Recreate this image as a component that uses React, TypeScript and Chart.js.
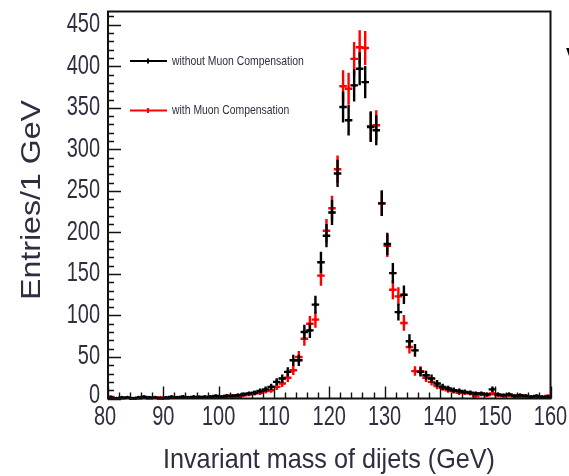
import { useEffect, useRef } from "react";
import { Chart, registerables } from "chart.js";

Chart.register(...registerables);

// Dijet invariant mass, 1 GeV bins (bin centres in GeV)
const binCenters = [
  80.5, 81.5, 82.5, 83.5, 84.5, 85.5, 86.5, 87.5, 88.5, 89.5,
  90.5, 91.5, 92.5, 93.5, 94.5, 95.5, 96.5, 97.5, 98.5, 99.5,
  100.5, 101.5, 102.5, 103.5, 104.5, 105.5, 106.5, 107.5, 108.5, 109.5,
  110.5, 111.5, 112.5, 113.5, 114.5, 115.5, 116.5, 117.5, 118.5, 119.5,
  120.5, 121.5, 122.5, 123.5, 124.5, 125.5, 126.5, 127.5, 128.5, 129.5,
  130.5, 131.5, 132.5, 133.5, 134.5, 135.5, 136.5, 137.5, 138.5, 139.5,
  140.5, 141.5, 142.5, 143.5, 144.5, 145.5, 146.5, 147.5, 148.5, 149.5,
  150.5, 151.5, 152.5, 153.5, 154.5, 155.5, 156.5, 157.5, 158.5, 159.5,
];

// Entries per bin without muon compensation
const withoutMuon = [
  1, 0, 1, 1, 0, 1, 2, 1, 1, 0,
  1, 2, 1, 2, 1, 2, 1, 2, 2, 3,
  2, 3, 3, 4, 5, 6, 7, 9, 11, 14,
  20, 24, 32, 46, 46, 80, 82, 113, 164, 196,
  224, 271, 351, 335, 377, 397, 381, 327, 323, 235,
  186, 151, 104, 125, 69, 58, 32, 28, 24, 18,
  14, 12, 10, 9, 8, 7, 6, 6, 5, 11,
  5, 4, 5, 3, 4, 3, 2, 3, 2, 2,
];

// Entries per bin with muon compensation
const withMuon = [
  2, 0, 0, 1, 0, 0, 1, 0, 1, 1,
  0, 1, 1, 2, 1, 1, 2, 1, 2, 1,
  2, 3, 3, 2, 4, 5, 6, 7, 9, 10,
  14, 18, 25, 34, 50, 72, 90, 95, 148, 202,
  229, 276, 376, 373, 409, 423, 422, 328, 329, 235,
  184, 131, 123, 91, 62, 33, 33, 25, 20, 15,
  13, 10, 9, 7, 7, 6, 3, 5, 4, 6,
  4, 3, 4, 3, 2, 3, 2, 2, 1, 3,
];

const seriesLabels = ["without Muon Compensation", "with Muon Compensation"];
const seriesColors = ["#000000", "#ff0000"];

const xTitle = "Invariant mass of dijets (GeV)";
const yTitle = "Entries/1 GeV";

const X_MIN = 80;
const X_MAX = 160;
const Y_MIN = 0;
const Y_MAX = 466;
const X_MAJOR = 10;
const X_MINOR = 2;
const Y_MAJOR = 50;
const Y_MINOR = 10;
const BIN_HALF_WIDTH = 0.5;

const FONT = "'Liberation Sans', Arial, sans-serif";
const TEXT_COLOR = "#2e2e40";

// Draws text squeezed (or stretched) horizontally along its own direction
function drawText(
  ctx: CanvasRenderingContext2D,
  text: string,
  x: number,
  y: number,
  size: number,
  sx: number,
  align: CanvasTextAlign,
  rotation = 0
) {
  ctx.save();
  ctx.translate(x, y);
  if (rotation) ctx.rotate(rotation);
  ctx.scale(sx, 1);
  ctx.font = `${size}px ${FONT}`;
  ctx.textAlign = align;
  ctx.textBaseline = "middle";
  ctx.fillStyle = TEXT_COLOR;
  ctx.fillText(text, 0, 0);
  ctx.restore();
}

// Draws text scaled to span a given width
function drawFitted(
  ctx: CanvasRenderingContext2D,
  text: string,
  cx: number,
  cy: number,
  size: number,
  width: number,
  rotation = 0
) {
  ctx.save();
  ctx.font = `${size}px ${FONT}`;
  const w = ctx.measureText(text).width;
  ctx.restore();
  drawText(ctx, text, cx, cy, size, width / w, "center", rotation);
}

// Poisson error bars, drawn under each dataset's markers
const errorBars = {
  id: "errorBars",
  beforeDatasetDraw(chart: any, args: any) {
    const { ctx, scales } = chart;
    const ds = chart.data.datasets[args.index];
    const xs = scales.x;
    const ys = scales.y;
    ctx.save();
    ctx.strokeStyle = ds.borderColor;
    ctx.lineWidth = 2.4;
    ctx.lineCap = "butt";
    for (const p of ds.data) {
      const err = Math.sqrt(p.y);
      const px = xs.getPixelForValue(p.x);
      const py = ys.getPixelForValue(p.y);
      ctx.beginPath();
      ctx.moveTo(px, ys.getPixelForValue(Math.max(p.y - err, Y_MIN)));
      ctx.lineTo(px, ys.getPixelForValue(p.y + err));
      ctx.moveTo(xs.getPixelForValue(p.x - BIN_HALF_WIDTH) - 1, py);
      ctx.lineTo(xs.getPixelForValue(p.x + BIN_HALF_WIDTH) + 1, py);
      ctx.stroke();
    }
    ctx.restore();
  },
};

// Frame, inward ticks, axis labels and the in-plot legend
const frameAndLegend = {
  id: "frameAndLegend",
  afterDraw(chart: any) {
    const { ctx, chartArea: a, scales } = chart;
    const xs = scales.x;
    const ys = scales.y;
    ctx.save();

    ctx.strokeStyle = "#111111";
    ctx.lineWidth = 1.4;
    ctx.beginPath();
    for (let v = X_MIN; v <= X_MAX; v += X_MINOR) {
      const px = Math.round(xs.getPixelForValue(v)) + 0.5;
      const len = v % X_MAJOR === 0 ? 12 : 6;
      ctx.moveTo(px, a.bottom);
      ctx.lineTo(px, a.bottom - len);
    }
    for (let v = Y_MIN; v <= Y_MAX; v += Y_MINOR) {
      const py = Math.round(ys.getPixelForValue(v)) + 0.5;
      const len = v % Y_MAJOR === 0 ? 13 : 6;
      ctx.moveTo(a.left, py);
      ctx.lineTo(a.left + len, py);
    }
    ctx.stroke();

    ctx.lineWidth = 2;
    ctx.strokeRect(a.left, a.top, a.right - a.left, a.bottom - a.top);

    // tick labels
    for (const t of xs.ticks) {
      const px = xs.getPixelForValue(t.value);
      const dx = t.value === X_MIN ? -3 : 0;
      drawText(ctx, String(t.value), px + dx, a.bottom + 19, 27, 0.74, "center");
    }
    for (const t of ys.ticks) {
      const py = ys.getPixelForValue(t.value);
      const dy = t.value === Y_MIN ? -3 : 0;
      drawText(ctx, String(t.value), a.left - 8, py + dy, 27, 0.74, "right");
    }

    // axis titles
    drawFitted(ctx, xTitle, 329, 460, 28, 332);
    drawFitted(ctx, yTitle, 32, 200, 28, 200, -Math.PI / 2);

    // legend entries
    const rows = [61, 110.5];
    rows.forEach((ry, i) => {
      ctx.strokeStyle = seriesColors[i];
      ctx.lineWidth = 2;
      ctx.beginPath();
      ctx.moveTo(a.left + 22, ry);
      ctx.lineTo(a.left + 59, ry);
      ctx.moveTo(a.left + 40, ry - 2.5);
      ctx.lineTo(a.left + 40, ry + 2.5);
      ctx.stroke();
      drawText(ctx, seriesLabels[i], a.left + 64, ry, 13, 0.8, "left");
    });

    // edge of a neighbouring caption
    ctx.fillStyle = "#000000";
    ctx.font = `bold 18px ${FONT}`;
    ctx.textBaseline = "middle";
    ctx.textAlign = "left";
    ctx.fillText("V", 566, 56);

    ctx.restore();
  },
};

export default function App() {
  const canvasRef = useRef<HTMLCanvasElement | null>(null);

  useEffect(() => {
    const canvas = canvasRef.current;
    if (!canvas) return;

    const makeData = (vals: number[]) => binCenters.map((x, i) => ({ x, y: vals[i] }));

    const chart = new Chart(canvas, {
      type: "scatter",
      data: {
        datasets: [
          {
            label: seriesLabels[0],
            data: makeData(withoutMuon),
            borderColor: seriesColors[0],
            backgroundColor: seriesColors[0],
            pointRadius: 1.8,
            pointBorderWidth: 0,
            showLine: false,
          },
          {
            label: seriesLabels[1],
            data: makeData(withMuon),
            borderColor: seriesColors[1],
            backgroundColor: seriesColors[1],
            pointRadius: 1.8,
            pointBorderWidth: 0,
            showLine: false,
          },
        ],
      },
      options: {
        animation: false,
        responsive: true,
        maintainAspectRatio: false,
        layout: { padding: { top: 11.5, right: 18.5, left: 0, bottom: 0 } },
        plugins: {
          legend: { display: false },
          tooltip: { enabled: false },
        },
        scales: {
          x: {
            type: "linear",
            min: X_MIN,
            max: X_MAX,
            afterFit: (s: any) => {
              s.height = 77.5;
            },
            grid: { display: false, drawTicks: false },
            border: { display: false },
            ticks: {
              display: false,
              stepSize: X_MAJOR,
              autoSkip: false,
              includeBounds: false,
            },
          },
          y: {
            type: "linear",
            min: Y_MIN,
            max: Y_MAX,
            afterFit: (s: any) => {
              s.width = 108;
            },
            grid: { display: false, drawTicks: false },
            border: { display: false },
            ticks: {
              display: false,
              stepSize: Y_MAJOR,
              autoSkip: false,
              includeBounds: false,
            },
          },
        },
      },
      plugins: [errorBars, frameAndLegend],
    });

    return () => chart.destroy();
  }, []);

  return (
    <div style={{ position: "fixed", left: 0, top: 0, width: 569, height: 476, background: "#ffffff" }}>
      <canvas ref={canvasRef} />
    </div>
  );
}
